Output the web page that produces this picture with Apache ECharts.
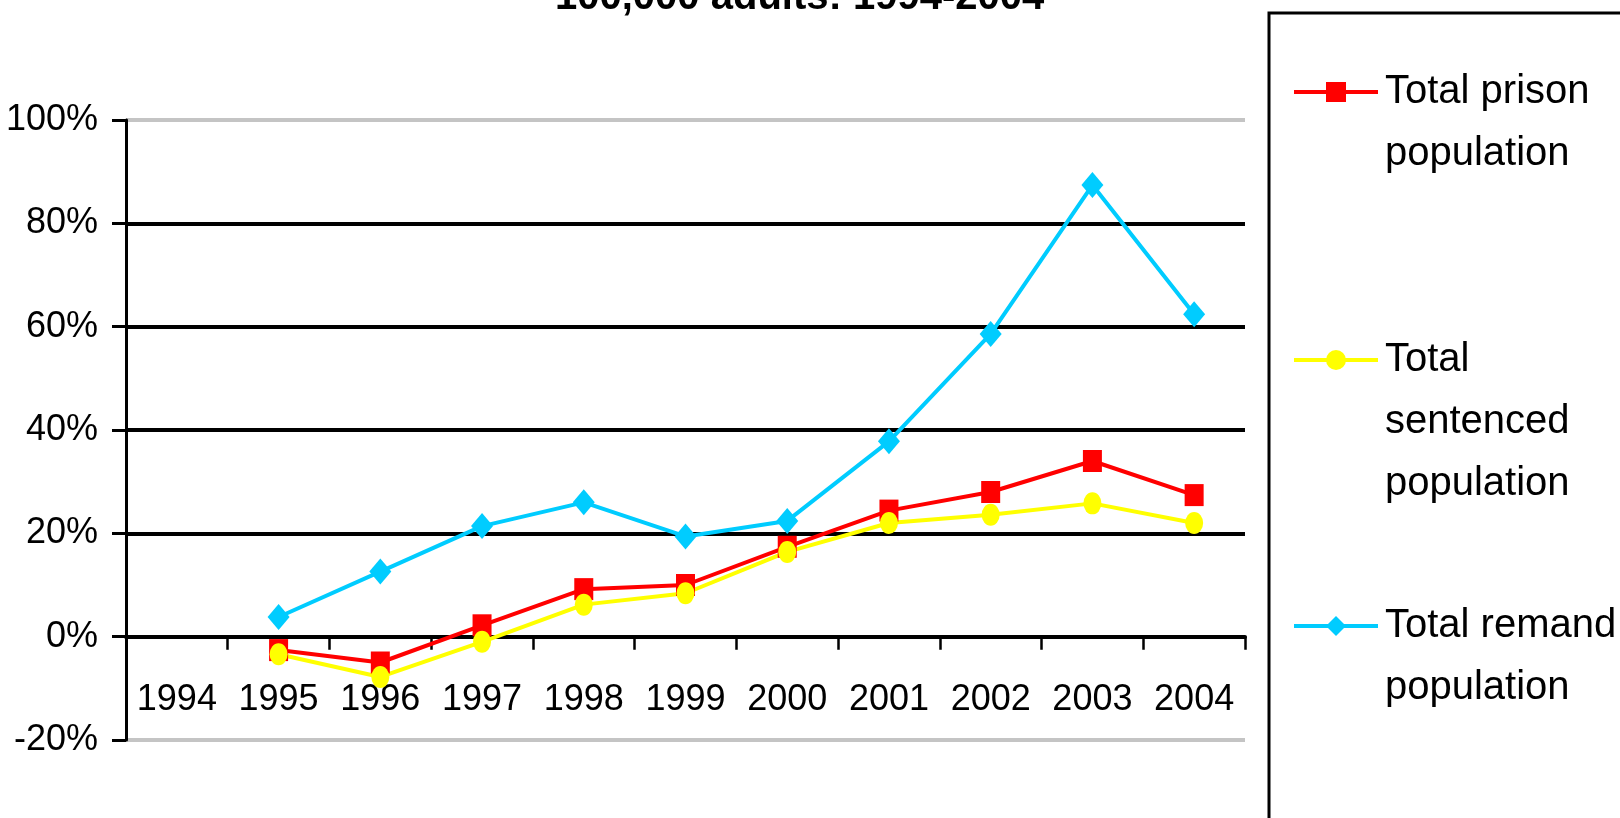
<!DOCTYPE html>
<html>
<head>
<meta charset="utf-8">
<title>Prison population change 1994-2004</title>
<script src="https://cdn.jsdelivr.net/npm/echarts@6/dist/echarts.min.js"></script>
<style>
  html, body { margin: 0; padding: 0; background: #fff; }
  #chart { width: 1620px; height: 818px; }
</style>
</head>
<body>
<div id="chart"></div>
<script>
  // data (% change vs 1994)
  const years = ['1994', '1995', '1996', '1997', '1998', '1999', '2000', '2001', '2002', '2003', '2004'];
  const seriesNames = ['Total prison\npopulation', 'Total\nsentenced\npopulation', 'Total remand\npopulation'];
  const prison = [null, -2.6, -5.0, 2.2, 9.2, 10.0, 17.4, 24.4, 28.0, 34.0, 27.4];
  const sentenced = [null, -3.4, -7.8, -1.0, 6.2, 8.4, 16.4, 22.0, 23.6, 25.8, 22.0];
  const remand = [null, 3.8, 12.6, 21.4, 26.0, 19.4, 22.4, 37.8, 58.6, 87.4, 62.4];
  const yTicks = [-20, 0, 20, 40, 60, 80, 100];

  const font = '"Liberation Sans", Arial, sans-serif';
  let myChart = echarts.init(document.getElementById('chart'));

  // one legend per item so the marker sits on the first text line
  const legendCenters = [92, 360, 626];
  const lineH = 62;
  let legends = seriesNames.map(function (name, i) {
    let n = name.split('\n').length;
    return {
      data: [name],
      orient: 'vertical',
      left: 1292,
      top: legendCenters[i] - (2 * n - 1) * lineH / 2,
      padding: 0,
      itemWidth: 84,
      itemHeight: 25,
      selectedMode: false,
      lineStyle: { width: 4 },
      formatter: function (nm) {
        return '\n'.repeat(nm.split('\n').length - 1) + nm;
      },
      textStyle: {
        fontFamily: font,
        fontSize: 40,
        lineHeight: lineH,
        color: '#000',
        padding: [0, 0, 0, 2]
      }
    };
  });

  let option = {
    animation: false,
    backgroundColor: '#fff',
    title: {
      text: '100,000 adults: 1994-2004',
      left: 555,
      top: -22,
      padding: 0,
      textStyle: { fontFamily: font, fontSize: 40, fontWeight: 'bold', color: '#000' }
    },
    legend: legends,
    graphic: [{
      type: 'rect',
      shape: { x: 1269, y: 13, width: 500, height: 900 },
      style: { fill: 'none', stroke: '#000', lineWidth: 3 },
      silent: true
    }],
    grid: { left: 126, right: 375, top: 120, bottom: 78 },
    xAxis: {
      type: 'category',
      data: years,
      boundaryGap: true,
      axisLine: { onZero: true, lineStyle: { color: '#000', width: 4 } },
      axisTick: { show: true, interval: 0, alignWithLabel: false, length: 13, lineStyle: { color: '#000', width: 2.5 } },
      // labels sit just under the zero line, as in the original
      axisLabel: { interval: 0, margin: -58, fontFamily: font, fontSize: 36, color: '#000' },
      splitLine: { show: false }
    },
    yAxis: {
      type: 'value',
      min: yTicks[0],
      max: yTicks[yTicks.length - 1],
      interval: 20,
      axisLine: { show: true, lineStyle: { color: '#000', width: 3 } },
      axisTick: { show: true, length: 14, lineStyle: { color: '#000', width: 3 } },
      axisLabel: { margin: 28, fontFamily: font, fontSize: 36, color: '#000', formatter: '{value}%' },
      splitLine: {
        show: true,
        lineStyle: {
          width: 4,
          color: ['#c4c4c4', '#000', '#000', '#000', '#000', '#000', '#c4c4c4']
        }
      }
    },
    series: [
      {
        name: seriesNames[0],
        type: 'line',
        data: prison,
        symbol: 'rect',
        symbolSize: [19, 22],
        lineStyle: { color: '#ff0000', width: 4 },
        itemStyle: { color: '#ff0000' }
      },
      {
        name: seriesNames[1],
        type: 'line',
        data: sentenced,
        symbol: 'circle',
        symbolSize: [18, 22],
        lineStyle: { color: '#ffff00', width: 4 },
        itemStyle: { color: '#ffff00' }
      },
      {
        name: seriesNames[2],
        type: 'line',
        data: remand,
        symbol: 'diamond',
        symbolSize: [22, 26],
        lineStyle: { color: '#00ccff', width: 4 },
        itemStyle: { color: '#00ccff' }
      }
    ]
  };

  myChart.setOption(option);
</script>
</body>
</html>
